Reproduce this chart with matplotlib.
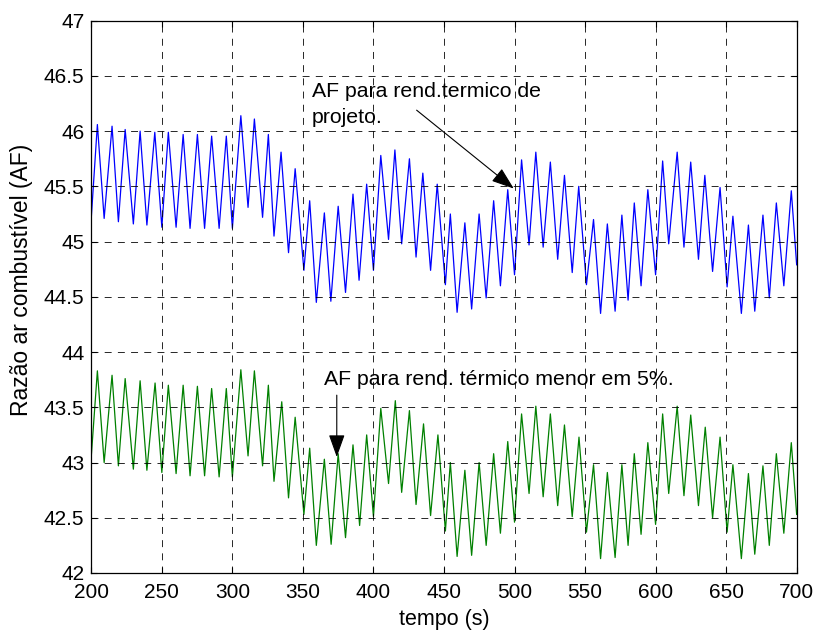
import matplotlib
matplotlib.use("Agg")
import matplotlib.pyplot as plt

# Air/fuel ratio time histories: turning points (time in s, AF value)
af_projeto_t = [200.0, 204.3, 209.1, 214.7, 219.2, 224.0, 229.8, 234.6, 239.4, 245.0,
                250.0, 254.6, 260.1, 265.1, 270.0, 275.2, 280.3, 285.3, 290.6, 295.7,
                300.0, 306.0, 311.1, 315.6, 321.4, 325.5, 329.5, 334.5, 339.8, 344.5,
                350.7, 354.8, 359.5, 365.2, 369.8, 375.0, 380.2, 385.5, 389.8, 395.2,
                400.0, 405.2, 410.7, 415.2, 420.0, 425.5, 430.2, 435.0, 440.5, 445.2,
                451.0, 454.5, 459.3, 464.8, 469.6, 474.9, 479.9, 485.2, 490.0, 495.2,
                500.0, 505.0, 510.3, 515.1, 520.3, 525.4, 530.6, 535.4, 540.9, 545.5,
                551.0, 556.0, 561.0, 565.8, 571.3, 576.1, 580.5, 584.9, 589.7, 594.5,
                600.0, 605.0, 609.3, 615.3, 620.1, 624.9, 630.4, 634.9, 640.4, 645.7,
                650.7, 654.8, 660.8, 665.8, 670.3, 676.1, 680.6, 685.6, 690.9, 696.2,
                700.0]
af_projeto = [45.22, 46.06, 45.21, 46.045, 45.18, 46.015, 45.16, 46.00, 45.15, 45.99,
              45.13, 45.99, 45.13, 45.97, 45.12, 45.97, 45.12, 45.955, 45.12, 45.955,
              45.12, 46.14, 45.31, 46.11, 45.22, 45.97, 45.05, 45.81, 44.90, 45.66,
              44.74, 45.37, 44.45, 45.26, 44.46, 45.32, 44.54, 45.43, 44.65, 45.52,
              44.74, 45.78, 45.02, 45.83, 44.98, 45.75, 44.86, 45.62, 44.74, 45.52,
              44.61, 45.25, 44.36, 45.17, 44.39, 45.25, 44.49, 45.37, 44.60, 45.47,
              44.70, 45.74, 44.97, 45.81, 44.95, 45.72, 44.84, 45.60, 44.72, 45.50,
              44.61, 45.20, 44.35, 45.16, 44.37, 45.24, 44.47, 45.35, 44.60, 45.47,
              44.70, 45.73, 44.98, 45.81, 44.95, 45.72, 44.84, 45.60, 44.73, 45.49,
              44.59, 45.23, 44.35, 45.15, 44.37, 45.24, 44.49, 45.35, 44.60, 45.46,
              44.79]

af_menor_t = [200.0, 204.3, 209.1, 214.7, 219.2, 224.0, 229.8, 234.6, 239.4, 245.2,
              250.0, 254.6, 260.1, 265.1, 270.0, 275.2, 280.3, 285.3, 290.6, 295.7,
              300.0, 306.0, 311.1, 315.6, 321.4, 325.5, 329.5, 335.0, 339.8, 344.5,
              350.7, 354.8, 359.5, 365.2, 370.0, 375.0, 380.2, 385.5, 390.2, 395.2,
              400.0, 405.2, 410.7, 415.5, 420.0, 425.5, 430.2, 435.5, 440.5, 445.7,
              451.0, 454.5, 459.3, 464.8, 469.6, 474.9, 479.9, 485.2, 490.0, 495.2,
              500.0, 505.0, 510.3, 515.1, 520.3, 525.4, 530.6, 535.4, 540.9, 545.7,
              551.0, 556.0, 561.0, 565.8, 571.3, 576.1, 580.5, 584.9, 589.7, 594.5,
              600.0, 605.0, 609.3, 615.3, 620.1, 624.9, 630.4, 635.2, 640.4, 645.7,
              650.7, 654.8, 660.8, 665.8, 670.3, 676.1, 680.6, 685.6, 690.9, 696.2,
              700.0]
af_menor = [43.06, 43.83, 43.00, 43.79, 42.97, 43.76, 42.94, 43.74, 42.93, 43.72,
            42.91, 43.70, 42.90, 43.70, 42.88, 43.69, 42.88, 43.67, 42.87, 43.67,
            42.87, 43.84, 43.06, 43.83, 42.97, 43.70, 42.83, 43.55, 42.68, 43.41,
            42.53, 43.13, 42.25, 43.03, 42.26, 43.08, 42.32, 43.16, 42.43, 43.25,
            42.51, 43.49, 42.81, 43.56, 42.73, 43.47, 42.62, 43.35, 42.52, 43.25,
            42.38, 43.00, 42.15, 42.93, 42.16, 43.00, 42.25, 43.08, 42.36, 43.19,
            42.46, 43.44, 42.72, 43.51, 42.69, 43.44, 42.61, 43.34, 42.51, 43.23,
            42.37, 42.98, 42.13, 42.91, 42.14, 42.98, 42.25, 43.08, 42.35, 43.18,
            42.44, 43.44, 42.72, 43.51, 42.70, 43.43, 42.61, 43.32, 42.50, 43.23,
            42.37, 42.98, 42.13, 42.90, 42.17, 42.97, 42.25, 43.08, 42.36, 43.18,
            42.53]

x_ticks = [200, 250, 300, 350, 400, 450, 500, 550, 600, 650, 700]
y_ticks = [42, 42.5, 43, 43.5, 44, 44.5, 45, 45.5, 46, 46.5, 47]
y_ticklabels = ["42", "42.5", "43", "43.5", "44", "44.5", "45", "45.5", "46", "46.5", "47"]

plt.rcParams['font.family'] = ['Liberation Sans', 'DejaVu Sans']
plt.rcParams['lines.scale_dashes'] = False
FS_TICK = 15
FS_NOTE = 15.3

fig = plt.figure(figsize=(8.16, 6.33), dpi=100)
ax = fig.add_axes([0.1119, 0.0948, 0.8644, 0.8725])

ax.plot(af_projeto_t, af_projeto, color=(0, 0, 1), lw=0.9, solid_joinstyle='round')
ax.plot(af_menor_t, af_menor, color=(0, 0.5, 0), lw=0.9, solid_joinstyle='round')

ax.set_xlim(200, 700)
ax.set_ylim(42, 47)
ax.set_xticks(x_ticks)
ax.set_xticklabels([str(v) for v in x_ticks])
ax.set_yticks(y_ticks)
ax.set_yticklabels(y_ticklabels)

ax.grid(True, color='k', lw=0.7, linestyle=(0, (5, 4.5)), alpha=0.85)
ax.set_axisbelow(False)
ax.tick_params(direction='in', length=4, width=0.8, top=True, right=True,
               labelsize=FS_TICK)
ax.tick_params(axis='y', pad=5)
ax.tick_params(axis='x', pad=7)
for sp in ax.spines.values():
    sp.set_linewidth(0.9)

ax.set_xlabel('tempo (s)', fontsize=15.5, labelpad=5)
ax.set_ylabel('Razão ar combustível (AF)', fontsize=16.5)
ax.yaxis.set_label_coords(-0.083, 0.53)

# Annotations
ax.text(356.2, 46.305, 'AF para rend.termico de', fontsize=FS_NOTE, va='baseline', ha='left')
ax.text(356.2, 46.07, 'projeto.', fontsize=FS_NOTE, va='baseline', ha='left')
ax.annotate('', xy=(499.5, 45.48), xytext=(430.6, 46.19),
            arrowprops=dict(arrowstyle='-|>,head_length=14,head_width=5',
                            mutation_scale=1, color='k', lw=0.8,
                            shrinkA=0, shrinkB=0))

ax.text(365.2, 43.70, 'AF para rend. térmico menor em 5%.', fontsize=FS_NOTE,
        va='baseline', ha='left')
ax.annotate('', xy=(374.0, 43.05), xytext=(374.0, 43.61),
            arrowprops=dict(arrowstyle='-|>,head_length=14,head_width=5',
                            mutation_scale=1, color='k', lw=0.8,
                            shrinkA=0, shrinkB=0))

fig.savefig('out.png', dpi=100)
